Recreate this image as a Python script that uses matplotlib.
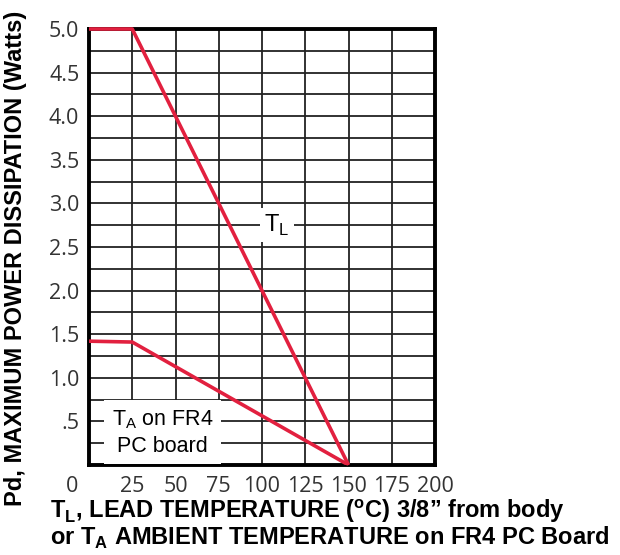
import matplotlib
matplotlib.use("Agg")
import matplotlib.pyplot as plt
import numpy as np

plt.rcParams['mathtext.fontset'] = 'custom'
plt.rcParams['mathtext.rm'] = 'Liberation Sans'
plt.rcParams['mathtext.bf'] = 'Liberation Sans:bold'

# Data
tl_x = [0, 25, 150]
tl_y = [5.0, 5.0, 0.0]
ta_x = [0, 25, 150]
ta_y = [1.42, 1.41, 0.0]
x_ticks = [25, 50, 75, 100, 125, 150, 175, 200]
x_ticklabels = ["25", "50", "75", "100", "125", "150", "175", "200"]
y_ticks = [0.5, 1.0, 1.5, 2.0, 2.5, 3.0, 3.5, 4.0, 4.5, 5.0]
y_ticklabels = [".5", "1.0", "1.5", "2.0", "2.5", "3.0", "3.5", "4.0", "4.5", "5.0"]

red = "#e2203f"
tickfont = "Open Sans"
tfs = 15.5
lfs = 17

fig = plt.figure(figsize=(6.2, 5.55), dpi=100)
ax = fig.add_axes([89/620, 1-465/555, 346/620, 436/555])
ax.set_xlim(0, 200)
ax.set_ylim(0, 5.0)

# grid
for gx in np.arange(25, 200, 25):
    ax.axvline(gx, color="#222222", lw=1.3, zorder=1)
for gy in np.arange(0.25, 5.0, 0.25):
    ax.axhline(gy, color="#222222", lw=1.3, zorder=1)

ax.plot(tl_x, tl_y, color=red, lw=2.6, zorder=3, solid_capstyle='butt', clip_on=False)
ax.plot(ta_x, ta_y, color=red, lw=2.6, zorder=3, solid_capstyle='butt')

for s in ax.spines.values():
    s.set_linewidth(2.8)
    s.set_color("black")

ax.set_xticks(x_ticks)
ax.set_xticklabels(x_ticklabels, fontfamily=tickfont, fontsize=tfs, color="#333333")
ax.set_yticks(y_ticks)
ax.set_yticklabels(y_ticklabels, fontfamily=tickfont, fontsize=tfs, color="#333333")
ax.tick_params(axis='x', length=0, pad=8)
ax.tick_params(axis='y', length=0, pad=7)
ax.text(-0.05, -0.05, "0", transform=ax.transAxes, fontfamily=tickfont, fontsize=tfs,
        color="#333333", ha="center", va="center")

# labels in plot
ax.text(108.7, 2.75, r"T$_{\mathrm{L}}$", fontfamily="Liberation Sans", fontsize=17,
        ha="center", va="center", zorder=4,
        bbox=dict(facecolor="white", edgecolor="none", pad=3))
ax.text(42.5, 0.37, "T$_{\\mathrm{A}}$ on FR4\nPC board", fontfamily="Liberation Sans", fontsize=15.5,
        ha="center", va="center", zorder=4, linespacing=1.3,
        bbox=dict(facecolor="white", edgecolor="none", boxstyle="square,pad=0.35"))

fig.text(16/620, 1-258/555, "Pd, MAXIMUM POWER DISSIPATION (Watts)", rotation=90,
         fontfamily="Liberation Sans", fontweight="bold", fontsize=lfs, ha="center", va="center")
fig.text(50/620, 1-511/555, r"T$_\mathbf{L}$, LEAD TEMPERATURE ($^\mathbf{o}$C) 3/8” from body",
         fontfamily="Liberation Sans", fontweight="bold", fontsize=lfs, ha="left", va="center")
fig.text(50/620, 1-538/555, r"or T$_\mathbf{A}$ AMBIENT TEMPERATURE on FR4 PC Board",
         fontfamily="Liberation Sans", fontweight="bold", fontsize=lfs, ha="left", va="center")

fig.savefig("out.png", dpi=100)
